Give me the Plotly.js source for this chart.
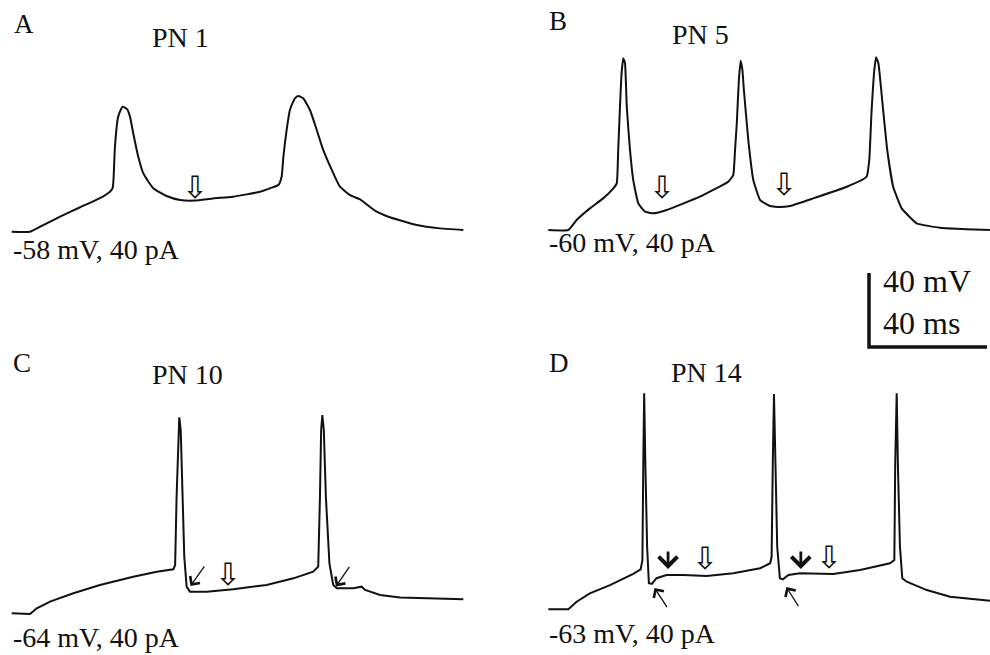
<!DOCTYPE html>
<html>
<head>
<meta charset="utf-8">
<script src="https://cdn.plot.ly/plotly-3.0.1.min.js"></script>
<style>html,body{margin:0;padding:0;background:#fff;}#chart{width:990px;height:655px;}</style>
</head>
<body>
<div id="chart"></div>
<script>
// ---- data (time in ms, membrane potential in mV) ----
const panelLetters = ["A", "B", "C", "D"];
const cellNames = ["PN 1", "PN 5", "PN 10", "PN 14"];
const holdLabels = ["-58 mV, 40 pA", "-60 mV, 40 pA", "-64 mV, 40 pA", "-63 mV, 40 pA"];

const tA = [0, 6.2, 10.7, 16.4, 23.2, 29.9, 33.3, 34.2, 34.5, 35.0, 36.1, 37.6, 39.1, 40.1, 41.2, 42.9, 44.6, 48.0, 52.5, 57.1, 62.1, 68.3, 75.0, 84.2, 87.6, 90.4, 91.5, 92.1, 93.2, 94.3, 96.0, 97.2, 98.8, 101.1, 103.4, 105.6, 108.5, 111.3, 114.7, 118.1, 119.8, 123.7, 127.7, 137.3, 145.2, 153.1];
const vA = [-58.0, -58.0, -54.4, -49.9, -44.8, -39.9, -36.4, -34.5, -30.1, -12.1, 4.2, 9.6, 8.3, 4.2, -4.8, -17.5, -26.4, -34.5, -38.7, -40.9, -41.2, -40.0, -39.1, -36.4, -34.5, -32.8, -28.3, -17.5, -3.0, 7.8, 14.1, 15.4, 14.1, 7.8, -3.0, -13.8, -24.6, -33.7, -38.2, -40.5, -42.6, -47.2, -49.9, -54.4, -56.2, -57.1];

const tB = [0, 6.8, 9.6, 14.1, 18.6, 21.9, 23.2, 23.7, 24.3, 24.8, 25.4, 26.0, 26.6, 27.7, 28.8, 30.5, 32.8, 35.6, 40.1, 51.4, 61.0, 62.7, 63.3, 63.9, 64.6, 65.2, 65.8, 66.3, 67.8, 69.5, 71.8, 75.2, 78.5, 82.0, 89.8, 101.2, 107.9, 108.8, 109.6, 110.4, 111.1, 111.9, 113.4, 114.9, 116.9, 119.8, 124.9, 132.8, 141.8, 149.7];
const vB = [-60, -60, -54.6, -48.3, -42.9, -37.8, -34.8, -16.8, 6.6, 23.8, 32.8, 30.3, 6.6, -16.8, -33.0, -45.6, -50.1, -51.0, -49.2, -42.0, -33.9, -30.3, -16.8, -2.3, 21.1, 31.5, 26.5, 15.7, -11.4, -33.0, -43.8, -47.0, -47.6, -47.0, -42.9, -36.6, -31.2, -22.2, 4.9, 24.7, 33.4, 30.1, 6.6, -16.8, -36.6, -48.3, -56.4, -58.8, -59.6, -60];

const tC = [0, 6.2, 8.5, 13.0, 20.9, 29.9, 41.2, 49.2, 54.8, 55.4, 55.9, 56.5, 56.8, 57.3, 57.8, 58.5, 59.3, 60.4, 66.1, 75.1, 86.4, 95.5, 102.2, 103.9, 104.5, 104.9, 105.3, 105.8, 106.5, 107.7, 109.0, 110.2, 115.8, 118.6, 119.8, 124.9, 131.6, 142.9, 153.1];
const vC = [-64, -64.4, -61.3, -57.7, -53.2, -48.7, -44.2, -41.5, -40.2, -37.9, -1.0, 35.1, 41.9, 35.1, -1.0, -33.4, -49.6, -52.3, -52.3, -51.0, -48.7, -45.1, -41.5, -38.8, -1.0, 35.1, 43.2, 35.1, -1.0, -37.0, -48.7, -50.5, -50.5, -49.6, -51.4, -54.1, -55.4, -56.1, -56.4];

const tD = [0, 6.8, 9.6, 14.1, 20.9, 28.8, 31.3, 31.9, 32.2, 32.5, 32.9, 33.5, 34.1, 35.1, 36.7, 40.1, 45.8, 53.7, 62.7, 71.8, 75.2, 75.7, 76.1, 76.5, 77.0, 77.6, 78.5, 79.5, 81.4, 85.3, 96.6, 105.7, 115.8, 117.3, 117.6, 118.1, 118.5, 119.2, 120.0, 121.5, 128.3, 136.2, 149.7];
const vD = [-63, -63, -58.9, -54.4, -49.9, -43.9, -41.4, -36.4, 15.9, 53.8, 15.9, -29.2, -48.9, -49.3, -46.2, -44.5, -44.5, -45.0, -43.5, -40.8, -38.1, -34.6, 15.9, 53.4, 15.9, -29.2, -46.2, -46.8, -44.5, -43.5, -43.9, -41.8, -38.1, -36.4, 15.9, 53.8, 15.9, -29.2, -46.2, -48.1, -52.6, -56.2, -58.4];

// scale bar: 40 ms horizontal, 40 mV vertical
const scaleT = [0, 0, 40];
const scaleV = [40, 0, 0];
const scaleLabels = ["40 mV", "40 ms"];

// ---- layout helpers ----
const W = 990, H = 655;
const SX = 2.95;  // px per ms
const SY = 1.85;  // px per mV
function axisPair(box, anchorPx, anchorVal) {
  const [L, R, T, B] = box, [px0, py0] = anchorPx, [t0, v0] = anchorVal;
  return {
    x: {domain: [L / W, R / W], range: [t0 + (L - px0) / SX, t0 + (R - px0) / SX]},
    y: {domain: [1 - B / H, 1 - T / H], range: [v0 + (py0 - B) / SY, v0 + (py0 - T) / SY]}
  };
}
const panels = [
  axisPair([0, 490, 60, 275], [11.7, 231.7], [0, -58]),
  axisPair([500, 990, 45, 270], [548.3, 230], [0, -60]),
  axisPair([0, 490, 390, 625], [11.7, 613.3], [0, -64]),
  axisPair([500, 990, 385, 625], [548.3, 609.3], [0, -63]),
  axisPair([855, 990, 262, 356], [869, 347], [0, 0])
];

const hidden = {visible: false, showgrid: false, zeroline: false, fixedrange: true};
const layout = {
  width: W, height: H, margin: {l: 0, r: 0, t: 0, b: 0},
  paper_bgcolor: "#fff", plot_bgcolor: "rgba(0,0,0,0)", showlegend: false,
  font: {family: "Liberation Serif", color: "#111", size: 26},
  annotations: []
};
panels.forEach((p, i) => {
  const n = i === 0 ? "" : String(i + 1);
  layout["xaxis" + n] = Object.assign({}, hidden, p.x, {anchor: "y" + n});
  layout["yaxis" + n] = Object.assign({}, hidden, p.y, {anchor: "x" + n});
});

const lineStyle = {color: "#111", width: 2};
const traces = [
  {x: tA, y: vA, xaxis: "x", yaxis: "y", line: Object.assign({shape: "spline", smoothing: 0.5}, lineStyle)},
  {x: tB, y: vB, xaxis: "x2", yaxis: "y2", line: Object.assign({shape: "spline", smoothing: 0.35}, lineStyle)},
  {x: tC, y: vC, xaxis: "x3", yaxis: "y3", line: Object.assign({shape: "linear"}, lineStyle)},
  {x: tD, y: vD, xaxis: "x4", yaxis: "y4", line: Object.assign({shape: "linear"}, lineStyle)},
  {x: scaleT, y: scaleV, xaxis: "x5", yaxis: "y5", line: {color: "#111", width: 3.5, shape: "linear"}}
].map(t => Object.assign({type: "scatter", mode: "lines", hoverinfo: "skip", cliponaxis: false}, t));

// ---- text labels (paper coordinates from pixels) ----
function txt(s, px, py, anchor, size) {
  layout.annotations.push({text: s, xref: "paper", yref: "paper", x: px / W, y: 1 - py / H,
    xanchor: anchor, yanchor: "middle", showarrow: false,
    font: {family: "Liberation Serif", size: size || 26, color: "#111"}});
}
const letterPos = [[12, 24], [547, 21], [11, 363], [547, 363]];
const namePos = [[180, 38], [700, 34], [187, 375], [706, 372]];
const holdPos = [[11, 250], [547, 243], [11, 637], [547, 633]];
for (let i = 0; i < 4; i++) {
  txt(panelLetters[i], letterPos[i][0], letterPos[i][1], "left", 27);
  txt(cellNames[i], namePos[i][0], namePos[i][1], "center", 28);
  txt(holdLabels[i], holdPos[i][0], holdPos[i][1], "left", 28);
}
txt(scaleLabels[0], 881, 281, "left", 32);
txt(scaleLabels[1], 881, 323, "left", 32);

// ---- arrow markers ----
function hollow(ax, t, v) {
  layout.annotations.push({text: "\u21e9", xref: ax, yref: ax.replace("x", "y"), x: t, y: v,
    xanchor: "center", yanchor: "middle", showarrow: false,
    font: {family: "DejaVu Sans", size: 31, color: "#111"}});
}
function arrow(ax, t, v, dx, dy, w, head, size) {
  layout.annotations.push({text: "", xref: ax, yref: ax.replace("x", "y"), x: t, y: v,
    showarrow: true, ax: dx, ay: dy, arrowhead: head, arrowwidth: w, arrowsize: size,
    arrowcolor: "#111", standoff: 0});
}
hollow("x", 62.1, -33.8);
hollow("x2", 38.4, -36.7);
hollow("x2", 79.9, -35.1);
hollow("x3", 73.4, -42.7);
hollow("x4", 53.1, -35.2);
hollow("x4", 95.2, -34.7);
arrow("x3", 60.6, -49.2, 15, -21, 1.3, 4, 1.8);
arrow("x3", 109.9, -49.5, 14.5, -21, 1.3, 4, 1.8);
arrow("x4", 36.0, -51.5, 13.5, 20.5, 1.3, 4, 1.8);
arrow("x4", 80.7, -51.0, 13, 20.5, 1.3, 4, 1.8);
arrow("x4", 40.6, -41.2, 0, -19, 2.8, 4, 1.3);
arrow("x4", 85.6, -41.2, 0, -19, 2.8, 4, 1.3);

Plotly.newPlot("chart", traces, layout, {displayModeBar: false, staticPlot: true});
</script>
</body>
</html>
